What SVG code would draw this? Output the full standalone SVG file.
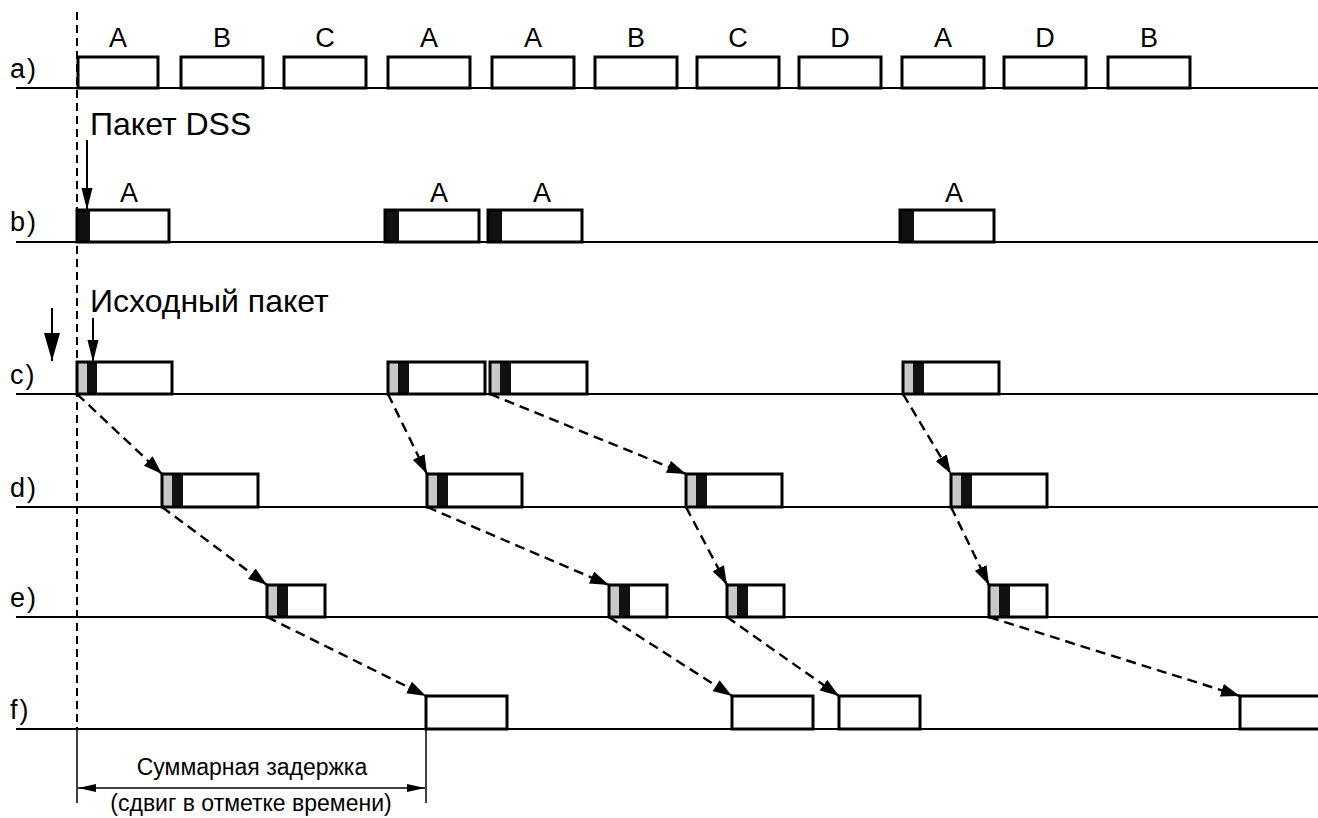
<svg xmlns="http://www.w3.org/2000/svg" width="1318" height="818" viewBox="0 0 1318 818">
<style>
text{font-family:"Liberation Sans",Arial,sans-serif;fill:#000}
.lbl{font-size:27px;letter-spacing:2px}
.big{font-size:32px}
.dim{font-size:23px;text-anchor:middle}
.pk{font-size:27px;text-anchor:middle}
.base{stroke:#000;stroke-width:2;fill:none}
.box{fill:none;stroke:#000;stroke-width:3}
.g{fill:#c8c8c8}
.k{fill:#111}
.dash{stroke:#000;stroke-width:2.4;stroke-dasharray:10 6;fill:none}
.vdash{stroke:#000;stroke-width:2;stroke-dasharray:8 5;fill:none}
.sol{stroke:#000;stroke-width:2;fill:none}
</style>
<defs>
<marker id="ah" markerUnits="userSpaceOnUse" markerWidth="19" markerHeight="13" refX="19" refY="6.5" orient="auto">
<path d="M0,0 L19,6.5 L0,13 z" fill="#000" stroke="none"/>
</marker>
<marker id="ahS" markerUnits="userSpaceOnUse" markerWidth="22" markerHeight="12" refX="22" refY="6" orient="auto">
<path d="M0,0.5 L22,6 L0,11.5 z" fill="#000" stroke="none"/>
</marker>
<marker id="ahB" markerUnits="userSpaceOnUse" markerWidth="28" markerHeight="16" refX="28" refY="8" orient="auto">
<path d="M0,0 L28,8 L0,16 z" fill="#000" stroke="none"/>
</marker>
<marker id="ahD" markerUnits="userSpaceOnUse" markerWidth="18" markerHeight="8" refX="18" refY="4" orient="auto-start-reverse">
<path d="M0,0 L18,4 L0,8 z" fill="#000" stroke="none"/>
</marker>
</defs>

<g id="axes">
<line class="base" x1="16" y1="88" x2="1318" y2="88"/>
<line class="base" x1="16" y1="242" x2="1318" y2="242"/>
<line class="base" x1="16" y1="394" x2="1318" y2="394"/>
<line class="base" x1="16" y1="507" x2="1318" y2="507"/>
<line class="base" x1="16" y1="617" x2="1318" y2="617"/>
<line class="base" x1="16" y1="729" x2="1318" y2="729"/>
<text class="lbl" x="10" y="78">a)</text>
<text class="lbl" x="10" y="231">b)</text>
<text class="lbl" x="10" y="384">c)</text>
<text class="lbl" x="10" y="497">d)</text>
<text class="lbl" x="10" y="607">e)</text>
<text class="lbl" x="10" y="719">f)</text>
<line class="vdash" x1="77" y1="12" x2="77" y2="729"/>
</g>

<g id="row-a">
<g id="a1"><rect class="box" x="78" y="57" width="80" height="31"/><text class="pk" x="118" y="47">A</text></g>
<g id="a2"><rect class="box" x="181" y="57" width="82" height="31"/><text class="pk" x="222" y="47">B</text></g>
<g id="a3"><rect class="box" x="284" y="57" width="82" height="31"/><text class="pk" x="325" y="47">C</text></g>
<g id="a4"><rect class="box" x="388" y="57" width="82" height="31"/><text class="pk" x="429" y="47">A</text></g>
<g id="a5"><rect class="box" x="492" y="57" width="82" height="31"/><text class="pk" x="533" y="47">A</text></g>
<g id="a6"><rect class="box" x="595" y="57" width="82" height="31"/><text class="pk" x="636" y="47">B</text></g>
<g id="a7"><rect class="box" x="697" y="57" width="82" height="31"/><text class="pk" x="738" y="47">C</text></g>
<g id="a8"><rect class="box" x="799" y="57" width="82" height="31"/><text class="pk" x="840" y="47">D</text></g>
<g id="a9"><rect class="box" x="902" y="57" width="82" height="31"/><text class="pk" x="943" y="47">A</text></g>
<g id="a10"><rect class="box" x="1004" y="57" width="82" height="31"/><text class="pk" x="1045" y="47">D</text></g>
<g id="a11"><rect class="box" x="1108" y="57" width="82" height="31"/><text class="pk" x="1149" y="47">B</text></g>
</g>

<g id="row-b">
<g id="b1"><rect class="k" x="77" y="210" width="13" height="32"/><rect class="box" x="77" y="210" width="92" height="32"/><text class="pk" x="129" y="202">A</text></g>
<g id="b2"><rect class="k" x="385" y="210" width="14" height="32"/><rect class="box" x="385" y="210" width="94" height="32"/><text class="pk" x="439" y="202">A</text></g>
<g id="b3"><rect class="k" x="488" y="210" width="14" height="32"/><rect class="box" x="488" y="210" width="94" height="32"/><text class="pk" x="542" y="202">A</text></g>
<g id="b4"><rect class="k" x="900" y="210" width="14" height="32"/><rect class="box" x="900" y="210" width="94" height="32"/><text class="pk" x="954" y="202">A</text></g>
</g>

<g id="dss-label">
<text class="big" x="90" y="135">Пакет DSS</text>
<line class="sol" x1="87" y1="140" x2="87" y2="210" marker-end="url(#ahS)"/>
</g>

<g id="src-label">
<text class="big" x="90" y="312">Исходный пакет</text>
<line class="sol" x1="93" y1="318" x2="93" y2="362" marker-end="url(#ahS)"/>
<line class="sol" x1="52" y1="308" x2="52" y2="361" marker-end="url(#ahB)"/>
</g>

<g id="row-c">
<g id="c1"><rect class="g" x="77" y="362" width="10" height="32"/><rect class="k" x="87" y="362" width="10" height="32"/><rect class="box" x="77" y="362" width="95" height="32"/></g>
<g id="c2"><rect class="g" x="388" y="362" width="10" height="32"/><rect class="k" x="398" y="362" width="11" height="32"/><rect class="box" x="388" y="362" width="97" height="32"/></g>
<g id="c3"><rect class="g" x="490" y="362" width="10" height="32"/><rect class="k" x="500" y="362" width="11" height="32"/><rect class="box" x="490" y="362" width="97" height="32"/></g>
<g id="c4"><rect class="g" x="903" y="362" width="10" height="32"/><rect class="k" x="913" y="362" width="11" height="32"/><rect class="box" x="903" y="362" width="96" height="32"/></g>
</g>

<g id="row-d">
<g id="d1"><rect class="g" x="162" y="474" width="10" height="33"/><rect class="k" x="172" y="474" width="11" height="33"/><rect class="box" x="162" y="474" width="96" height="33"/></g>
<g id="d2"><rect class="g" x="427" y="474" width="10" height="33"/><rect class="k" x="437" y="474" width="11" height="33"/><rect class="box" x="427" y="474" width="95" height="33"/></g>
<g id="d3"><rect class="g" x="686" y="474" width="10" height="33"/><rect class="k" x="696" y="474" width="11" height="33"/><rect class="box" x="686" y="474" width="96" height="33"/></g>
<g id="d4"><rect class="g" x="951" y="474" width="10" height="33"/><rect class="k" x="961" y="474" width="11" height="33"/><rect class="box" x="951" y="474" width="96" height="33"/></g>
</g>

<g id="row-e">
<g id="e1"><rect class="g" x="267" y="585" width="10" height="32"/><rect class="k" x="277" y="585" width="11" height="32"/><rect class="box" x="267" y="585" width="58" height="32"/></g>
<g id="e2"><rect class="g" x="609" y="585" width="10" height="32"/><rect class="k" x="619" y="585" width="11" height="32"/><rect class="box" x="609" y="585" width="58" height="32"/></g>
<g id="e3"><rect class="g" x="727" y="585" width="10" height="32"/><rect class="k" x="737" y="585" width="11" height="32"/><rect class="box" x="727" y="585" width="57" height="32"/></g>
<g id="e4"><rect class="g" x="989" y="585" width="10" height="32"/><rect class="k" x="999" y="585" width="11" height="32"/><rect class="box" x="989" y="585" width="58" height="32"/></g>
</g>

<g id="row-f">
<g id="f1"><rect class="box" x="426" y="696" width="81" height="33"/></g>
<g id="f2"><rect class="box" x="732" y="696" width="81" height="33"/></g>
<g id="f3"><rect class="box" x="839" y="696" width="81" height="33"/></g>
<g id="f4"><rect class="box" x="1240" y="696" width="82" height="33"/></g>
</g>

<g id="connectors">
<line class="dash" x1="77" y1="394" x2="162" y2="474" marker-end="url(#ah)"/>
<line class="dash" x1="388" y1="394" x2="427" y2="474" marker-end="url(#ah)"/>
<line class="dash" x1="490" y1="394" x2="686" y2="474" marker-end="url(#ah)"/>
<line class="dash" x1="903" y1="394" x2="951" y2="474" marker-end="url(#ah)"/>
<line class="dash" x1="162" y1="507" x2="267" y2="585" marker-end="url(#ah)"/>
<line class="dash" x1="427" y1="507" x2="609" y2="585" marker-end="url(#ah)"/>
<line class="dash" x1="686" y1="507" x2="727" y2="585" marker-end="url(#ah)"/>
<line class="dash" x1="951" y1="507" x2="989" y2="585" marker-end="url(#ah)"/>
<line class="dash" x1="267" y1="617" x2="426" y2="696" marker-end="url(#ah)"/>
<line class="dash" x1="609" y1="617" x2="732" y2="696" marker-end="url(#ah)"/>
<line class="dash" x1="727" y1="617" x2="839" y2="696" marker-end="url(#ah)"/>
<line class="dash" x1="989" y1="617" x2="1240" y2="696" marker-end="url(#ah)"/>
</g>

<g id="delay-dimension">
<line class="sol" x1="77" y1="729" x2="77" y2="803" style="stroke-width:1.5"/>
<line class="sol" x1="426" y1="729" x2="426" y2="803" style="stroke-width:1.5"/>
<line class="sol" x1="78" y1="788" x2="425" y2="788" style="stroke-width:1.5" marker-start="url(#ahD)" marker-end="url(#ahD)"/>
<text class="dim" x="252" y="775">Суммарная задержка</text>
<text class="dim" x="251" y="811">(сдвиг в отметке времени)</text>
</g>
</svg>
